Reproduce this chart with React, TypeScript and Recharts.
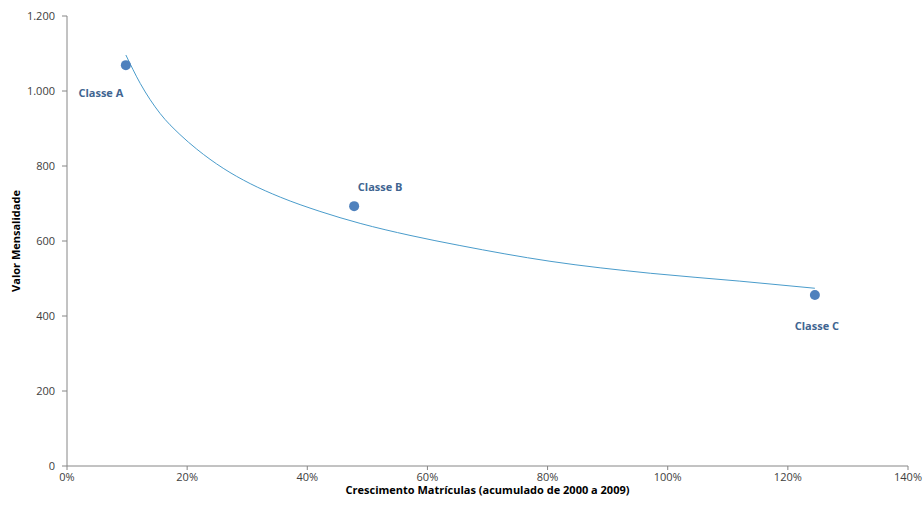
import {
  ComposedChart,
  Line,
  Scatter,
  XAxis,
  YAxis,
  LabelList,
} from 'recharts';

// the three classes (x = growth in %, y = monthly fee)
const classNames = ['Classe A', 'Classe B', 'Classe C'];
const classGrowth = [9.8, 47.8, 124.5];
const classFee = [1069, 693, 456];

// trend curve
const trendGrowth = [9.8, 12.2, 15.5, 18.8, 21.6, 26.0, 30.5, 35.5, 42.1, 48.8, 57.1, 65.4, 80.4, 97.1, 112, 124.5];
const trendFee = [1096, 1020, 940, 884, 845, 794, 753, 717, 679, 647, 615, 588, 546, 514, 493, 474];

const xTicks = [0, 20, 40, 60, 80, 100, 120, 140];
const yTicks = [0, 200, 400, 600, 800, 1000, 1200];

const points = classNames.map((name, i) => ({ name, x: classGrowth[i], y: classFee[i] }));
const trend = trendGrowth.map((x, i) => ({ x, y: trendFee[i] }));

const labelOffset: Record<string, [number, number]> = {
  'Classe A': [-25, 27],
  'Classe B': [26, -20],
  'Classe C': [2, 30],
};

const FONT = '"Open Sans", sans-serif';
const AXIS = '#868686';
const TEXT = '#404040';

const fmtNum = (v: number) => String(v).replace(/\B(?=(\d{3})+(?!\d))/g, '.');

const ClassLabel = (props: any) => {
  const { x, y, width, height, value } = props;
  const [dx, dy] = labelOffset[value] || [0, 0];
  const cx = x + (width || 0) / 2;
  const cy = y + (height || 0) / 2;
  return (
    <text
      x={cx + dx}
      y={cy + dy}
      textAnchor="middle"
      dominantBaseline="central"
      fontFamily={FONT}
      fontSize={11}
      fontWeight={700}
      fill="#3F6591"
    >
      {value}
    </text>
  );
};

export default function App() {
  return (
    <div style={{ position: 'absolute', left: 0, top: 0, background: '#fff' }}>
      <ComposedChart width={924} height={511} margin={{ top: 16, right: 16, bottom: 0, left: 0 }}>
        <XAxis
          type="number"
          dataKey="x"
          domain={[0, 140]}
          ticks={xTicks}
          tickFormatter={(v) => `${v}%`}
          tick={{ fontSize: 11, fill: TEXT, fontFamily: FONT }}
          axisLine={{ stroke: AXIS }}
          tickLine={{ stroke: AXIS }}
          tickSize={4}
          tickMargin={3}
          height={45}
          allowDuplicatedCategory={false}
          label={{
            value: 'Crescimento Matrículas (acumulado de 2000 a 2009)',
            position: 'insideBottom',
            offset: 17,
            style: { fontSize: 11, fontWeight: 700, fill: '#000', fontFamily: FONT },
          }}
        />
        <YAxis
          type="number"
          dataKey="y"
          domain={[0, 1200]}
          ticks={yTicks}
          tickFormatter={fmtNum}
          tick={{ fontSize: 11, fill: TEXT, fontFamily: FONT }}
          axisLine={{ stroke: AXIS }}
          tickLine={{ stroke: AXIS }}
          tickSize={5}
          tickMargin={7}
          width={67}
          label={{
            value: 'Valor Mensalidade',
            angle: -90,
            position: 'insideLeft',
            offset: 16,
            style: { fontSize: 11, fontWeight: 700, fill: '#000', fontFamily: FONT, textAnchor: 'middle' },
          }}
        />
        <Line
          data={trend}
          dataKey="y"
          type="monotone"
          stroke="#4A9CCB"
          strokeWidth={1}
          dot={false}
          activeDot={false}
          isAnimationActive={false}
        />
        <Scatter data={points} dataKey="y" fill="#4F81BD" isAnimationActive={false} shape={(p: any) => <circle cx={p.cx} cy={p.cy} r={5} fill="#4F81BD" />}>
          <LabelList dataKey="name" content={<ClassLabel />} />
        </Scatter>
      </ComposedChart>
    </div>
  );
}
